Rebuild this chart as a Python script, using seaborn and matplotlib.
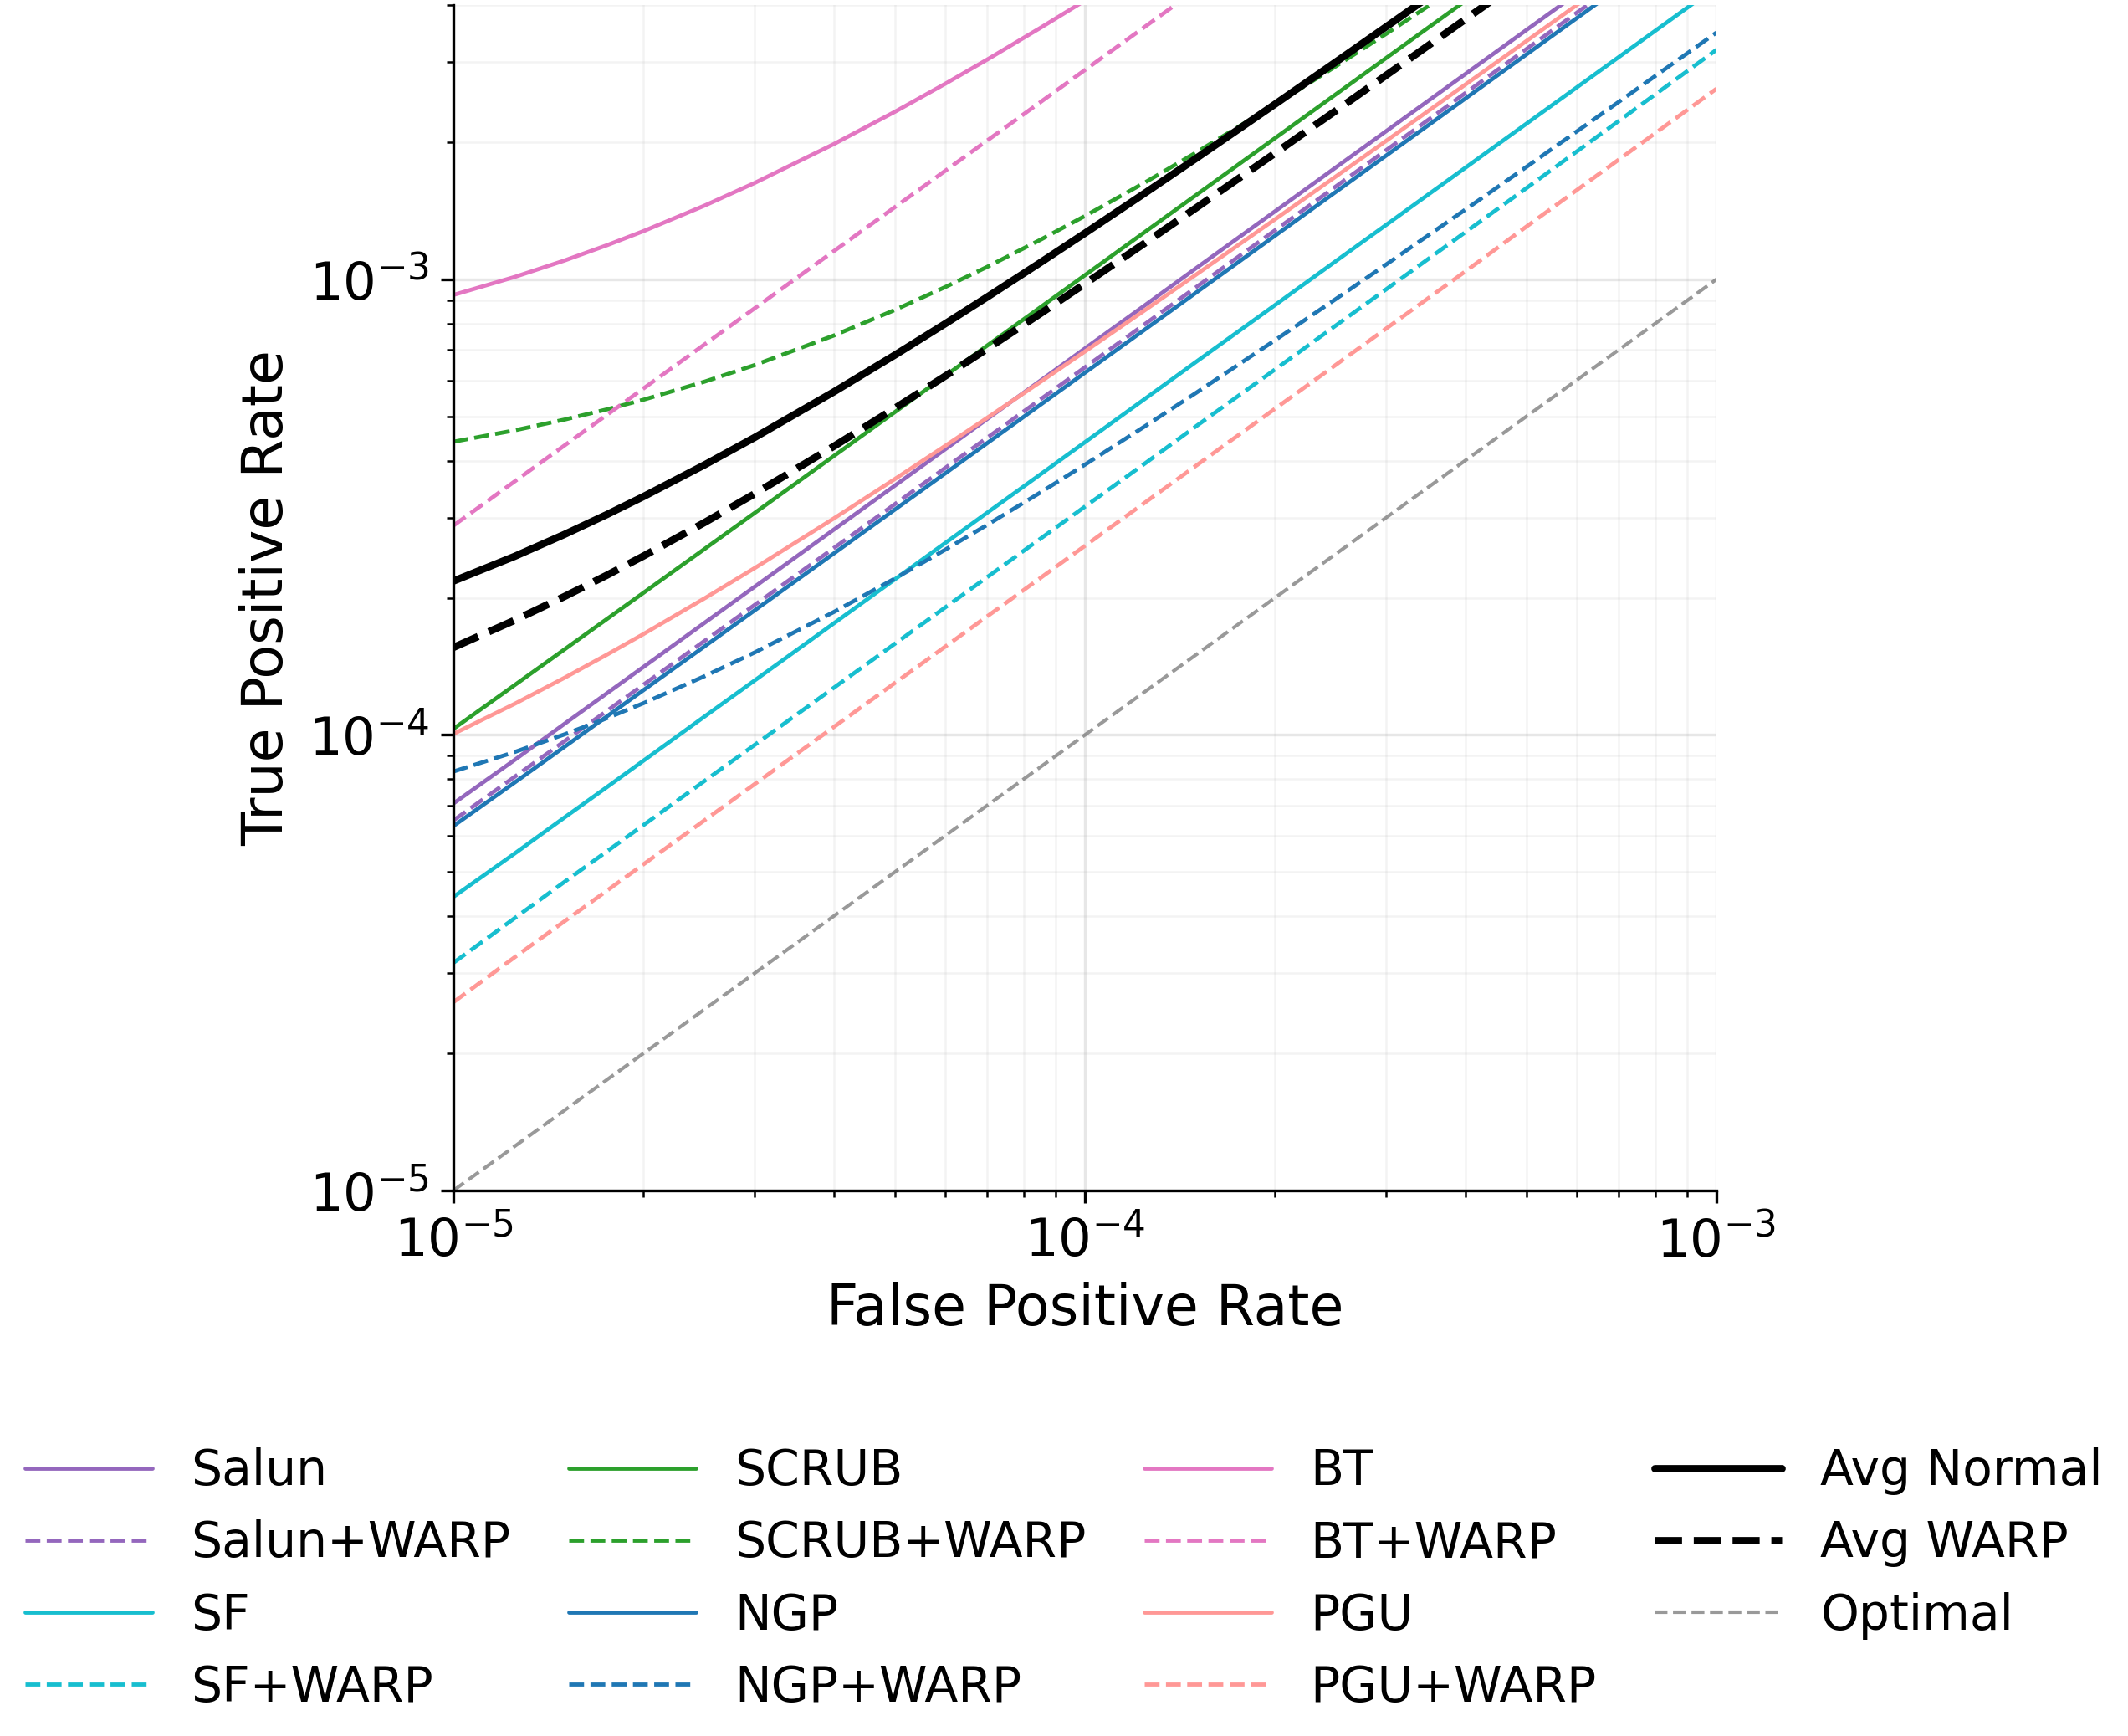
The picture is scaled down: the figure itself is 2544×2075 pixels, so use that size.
import numpy as np
import pandas as pd
import seaborn as sns
import matplotlib.pyplot as plt
from matplotlib.ticker import LogLocator

# false positive rate grid (x) and true positive rate per method
fpr = [1e-5, 1.25e-5, 1.5e-5, 1.75e-5, 2e-5, 2.5e-5, 3e-5, 4e-5, 5e-5, 6e-5, 7e-5,
       8.5e-5, 1e-4, 1.25e-4, 1.5e-4, 2e-4, 2.5e-4, 3e-4, 4e-4, 5e-4, 7e-4, 1e-3]

salun      = [7.07e-5, 8.81e-5, 1.058e-4, 1.234e-4, 1.41e-4, 1.763e-4, 2.115e-4, 2.82e-4, 3.525e-4, 4.23e-4, 4.935e-4,
              5.99e-4, 7.05e-4, 8.81e-4, 1.058e-3, 1.41e-3, 1.763e-3, 2.115e-3, 2.82e-3, 3.525e-3, 4.935e-3, 7.05e-3]
salun_warp = [6.49e-5, 8.09e-5, 9.69e-5, 1.129e-4, 1.289e-4, 1.609e-4, 1.929e-4, 2.569e-4, 3.209e-4, 3.849e-4, 4.489e-4,
              5.449e-4, 6.409e-4, 8.01e-4, 9.61e-4, 1.281e-3, 1.601e-3, 1.921e-3, 2.561e-3, 3.201e-3, 4.481e-3, 6.401e-3]
sf         = [4.41e-5, 5.49e-5, 6.59e-5, 7.68e-5, 8.78e-5, 1.098e-4, 1.317e-4, 1.756e-4, 2.195e-4, 2.634e-4, 3.073e-4,
              3.73e-4, 4.39e-4, 5.49e-4, 6.59e-4, 8.78e-4, 1.098e-3, 1.317e-3, 1.756e-3, 2.195e-3, 3.073e-3, 4.39e-3]
sf_warp    = [3.16e-5, 3.96e-5, 4.76e-5, 5.55e-5, 6.34e-5, 7.93e-5, 9.51e-5, 1.268e-4, 1.585e-4, 1.902e-4, 2.219e-4,
              2.695e-4, 3.17e-4, 3.96e-4, 4.76e-4, 6.34e-4, 7.93e-4, 9.51e-4, 1.268e-3, 1.585e-3, 2.225e-3, 3.19e-3]
scrub      = [1.031e-4, 1.286e-4, 1.541e-4, 1.796e-4, 2.051e-4, 2.561e-4, 3.071e-4, 4.091e-4, 5.111e-4, 6.131e-4, 7.151e-4,
              8.681e-4, 1.021e-3, 1.276e-3, 1.531e-3, 2.041e-3, 2.551e-3, 3.061e-3, 4.081e-3, 5.101e-3, 7.141e-3, 1.020e-2]
scrub_warp = [4.40e-4, 4.661e-4, 4.922e-4, 5.182e-4, 5.442e-4, 5.963e-4, 6.483e-4, 7.524e-4, 8.565e-4, 9.606e-4, 1.0647e-3,
              1.2209e-3, 1.377e-3, 1.637e-3, 1.898e-3, 2.418e-3, 2.939e-3, 3.459e-3, 4.50e-3, 5.541e-3, 7.623e-3, 1.0746e-2]
ngp        = [6.31e-5, 7.86e-5, 9.42e-5, 1.098e-4, 1.254e-4, 1.565e-4, 1.877e-4, 2.50e-4, 3.123e-4, 3.745e-4, 4.368e-4,
              5.303e-4, 6.237e-4, 7.794e-4, 9.352e-4, 1.2466e-3, 1.558e-3, 1.8695e-3, 2.492e-3, 3.115e-3, 4.361e-3, 6.23e-3]
ngp_warp   = [8.31e-5, 9.17e-5, 1.003e-4, 1.088e-4, 1.174e-4, 1.346e-4, 1.517e-4, 1.860e-4, 2.204e-4, 2.547e-4, 2.89e-4,
              3.404e-4, 3.919e-4, 4.777e-4, 5.635e-4, 7.35e-4, 9.066e-4, 1.0781e-3, 1.4212e-3, 1.7643e-3, 2.4505e-3, 3.48e-3]
bt         = [9.24e-4, 1.0119e-3, 1.0999e-3, 1.1878e-3, 1.2758e-3, 1.4518e-3, 1.6277e-3, 1.9796e-3, 2.3315e-3, 2.6834e-3, 3.0353e-3,
              3.5632e-3, 4.091e-3, 4.971e-3, 5.851e-3, 7.61e-3, 9.37e-3, 1.113e-2, 1.465e-2, 1.817e-2, 2.52e-2, 3.576e-2]
bt_warp    = [2.88e-4, 3.60e-4, 4.32e-4, 5.04e-4, 5.76e-4, 7.20e-4, 8.64e-4, 1.152e-3, 1.44e-3, 1.728e-3, 2.016e-3,
              2.448e-3, 2.88e-3, 3.60e-3, 4.32e-3, 5.76e-3, 7.20e-3, 8.64e-3, 1.152e-2, 1.44e-2, 2.016e-2, 2.88e-2]
pgu        = [1.005e-4, 1.17e-4, 1.335e-4, 1.50e-4, 1.665e-4, 1.995e-4, 2.324e-4, 2.984e-4, 3.644e-4, 4.304e-4, 4.964e-4,
              5.953e-4, 6.943e-4, 8.593e-4, 1.0242e-3, 1.3541e-3, 1.684e-3, 2.0139e-3, 2.6737e-3, 3.3335e-3, 4.6531e-3, 6.6325e-3]
pgu_warp   = [2.59e-5, 3.25e-5, 3.90e-5, 4.55e-5, 5.20e-5, 6.50e-5, 7.80e-5, 1.04e-4, 1.30e-4, 1.56e-4, 1.82e-4,
              2.21e-4, 2.60e-4, 3.25e-4, 3.90e-4, 5.20e-4, 6.50e-4, 7.80e-4, 1.04e-3, 1.305e-3, 1.83e-3, 2.62e-3]

methods = ["Salun", "SF", "SCRUB", "NGP", "BT", "PGU"]
colors = {"Salun": "#9467bd", "SF": "#17becf", "SCRUB": "#2ca02c",
          "NGP": "#1f77b4", "BT": "#e377c2", "PGU": "#ff9896"}
normal = {"Salun": salun, "SF": sf, "SCRUB": scrub, "NGP": ngp, "BT": bt, "PGU": pgu}
warp = {"Salun": salun_warp, "SF": sf_warp, "SCRUB": scrub_warp, "NGP": ngp_warp, "BT": bt_warp, "PGU": pgu_warp}

# averages over the six methods
avg_normal = np.mean([normal[m] for m in methods], axis=0)
avg_warp = np.mean([warp[m] for m in methods], axis=0)

sns.set_style("ticks")
plt.rcParams['font.family'] = ['DejaVu Sans']
plt.rcParams['text.color'] = 'black'
plt.rcParams['axes.labelcolor'] = 'black'
plt.rcParams['xtick.color'] = 'black'
plt.rcParams['ytick.color'] = 'black'
plt.rcParams['axes.edgecolor'] = 'black'

fig = plt.figure(figsize=(2544 / 300, 2075 / 300), dpi=300)
ax = fig.add_axes([542 / 2544, 1 - 1423 / 2075, (2052 - 542) / 2544, (1423 - 6) / 2075])

for m in methods:
    sns.lineplot(x=fpr, y=normal[m], ax=ax, color=colors[m], lw=1.15,
                 label=m, estimator=None, sort=False)
    sns.lineplot(x=fpr, y=warp[m], ax=ax, color=colors[m], lw=1.15, linestyle="--",
                 label=f"{m}+WARP", estimator=None, sort=False)

sns.lineplot(x=fpr, y=avg_normal, ax=ax, color="black", lw=2.1,
             label="Avg Normal", estimator=None, sort=False)
sns.lineplot(x=fpr, y=avg_warp, ax=ax, color="black", lw=2.1, linestyle="--",
             label="Avg WARP", estimator=None, sort=False)
sns.lineplot(x=fpr, y=fpr, ax=ax, color="gray", alpha=0.8, lw=1.0, linestyle="--",
             label="Optimal", estimator=None, sort=False)

ax.set_xscale("log")
ax.set_yscale("log")
ax.set_xlim(1e-5, 1e-3)
ax.set_ylim(1e-5, 4e-3)
ax.yaxis.set_minor_locator(LogLocator(base=10, subs=np.arange(2, 10)))
ax.xaxis.set_minor_locator(LogLocator(base=10, subs=np.arange(2, 10)))
ax.grid(True, which="major", color="#b0b0b0", alpha=0.3, lw=0.8)
ax.grid(True, which="minor", color="#b0b0b0", alpha=0.15, lw=0.6)
sns.despine(ax=ax)
ax.tick_params(axis="both", which="major", labelsize=15, length=3.5, width=0.8)
ax.tick_params(axis="both", which="minor", length=2, width=0.6)
ax.set_xlabel("False Positive Rate", fontsize=16)
ax.set_ylabel("True Positive Rate", fontsize=16)

handles, labels = ax.get_legend_handles_labels()
if ax.get_legend() is not None:
    ax.get_legend().remove()
fig.legend(handles, labels, loc="center", bbox_to_anchor=(0.5, 1 - 1888 / 2075),
           ncol=4, frameon=False, fontsize=14, handlelength=2.6, handletextpad=0.8,
           columnspacing=1.19, labelspacing=0.5)

fig.savefig("out.png", dpi=300)
